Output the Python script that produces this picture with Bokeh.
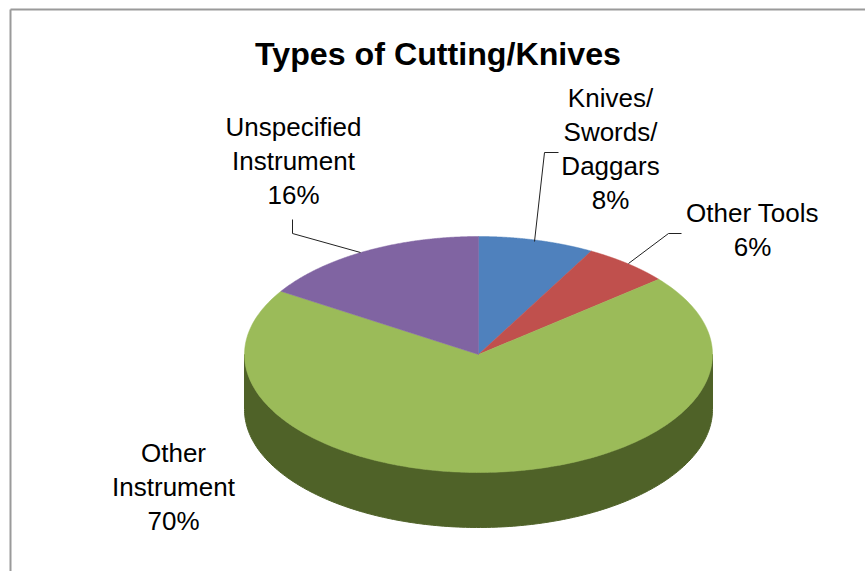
import numpy as np
from bokeh.plotting import figure
from bokeh.models import Range1d
from bokeh.core.properties import value
from bokeh.embed import file_html
from bokeh.resources import INLINE

title = "Types of Cutting/Knives"
categories = ["Knives/Swords/Daggars", "Other Tools", "Other Instrument", "Unspecified Instrument"]
percents = [8, 6, 70, 16]
label_lines = [["Knives/", "Swords/", "Daggars", "8%"],
               ["Other Tools", "6%"],
               ["Other", "Instrument", "70%"],
               ["Unspecified", "Instrument", "16%"]]
colors = ["#4F81BD", "#C0504D", "#9BBB59", "#8064A2"]
wall_color = "#4F6228"

# layout (page pixels)
CX, CY, RX, RY, DEPTH = 478, 354, 234, 118, 55
label_anchor = [(610, 97), (752, 212), (173, 452), (293, 126)]
LINE_STEP = 34
leaders = [([534, 544, 558], [241, 152, 152]),
           ([628, 668, 681], [263, 233, 233]),
           ([360, 292, 292], [252, 233, 219])]

p = figure(width=865, height=571, x_range=Range1d(0, 865), y_range=Range1d(571, 0),
           output_backend="svg", toolbar_location=None, min_border=0)
p.axis.visible = False
p.grid.visible = False
p.outline_line_color = None
p.background_fill_color = "white"

def rim(a):
    return CX + RX * np.sin(a), CY - RY * np.cos(a)

edges = np.cumsum([0] + percents) / sum(percents) * 2 * np.pi

# side wall: the front half of every slice
for i, pct in enumerate(percents):
    lo, hi = max(edges[i], np.pi / 2), min(edges[i + 1], 3 * np.pi / 2)
    if hi <= lo:
        continue
    a = np.linspace(lo, hi, 200)
    x, y = rim(a)
    p.patch(np.r_[x, x[::-1]], np.r_[y, (y + DEPTH)[::-1]], fill_color=wall_color, line_color=wall_color)

# top face
for i, pct in enumerate(percents):
    a = np.linspace(edges[i], edges[i + 1], 200)
    x, y = rim(a)
    p.patch(np.r_[CX, x], np.r_[CY, y], fill_color=colors[i], line_color=colors[i], line_width=0.5)

# leader lines
for lx, ly in leaders:
    p.line(lx, ly, line_color="#222222", line_width=1)

# frame
p.line([10, 10], [571, 9], line_color="#9a9a9a", line_width=2)
p.line([10, 865], [9, 9], line_color="#9a9a9a", line_width=2)

# texts
for lines, (ax, ay) in zip(label_lines, label_anchor):
    p.text([ax] * len(lines), [ay + LINE_STEP * k for k in range(len(lines))], text=lines,
           text_font=value("Liberation Sans"), text_font_size="26px", text_color="#000000",
           text_align="center", text_baseline="alphabetic")

p.text([437.5], [53], text=[title], text_font=value("Liberation Sans"), text_font_style="bold",
       text_font_size="32.2px", text_color="#000000", text_align="center", text_baseline="alphabetic")

open("out.html", "w").write(file_html(p, INLINE))
